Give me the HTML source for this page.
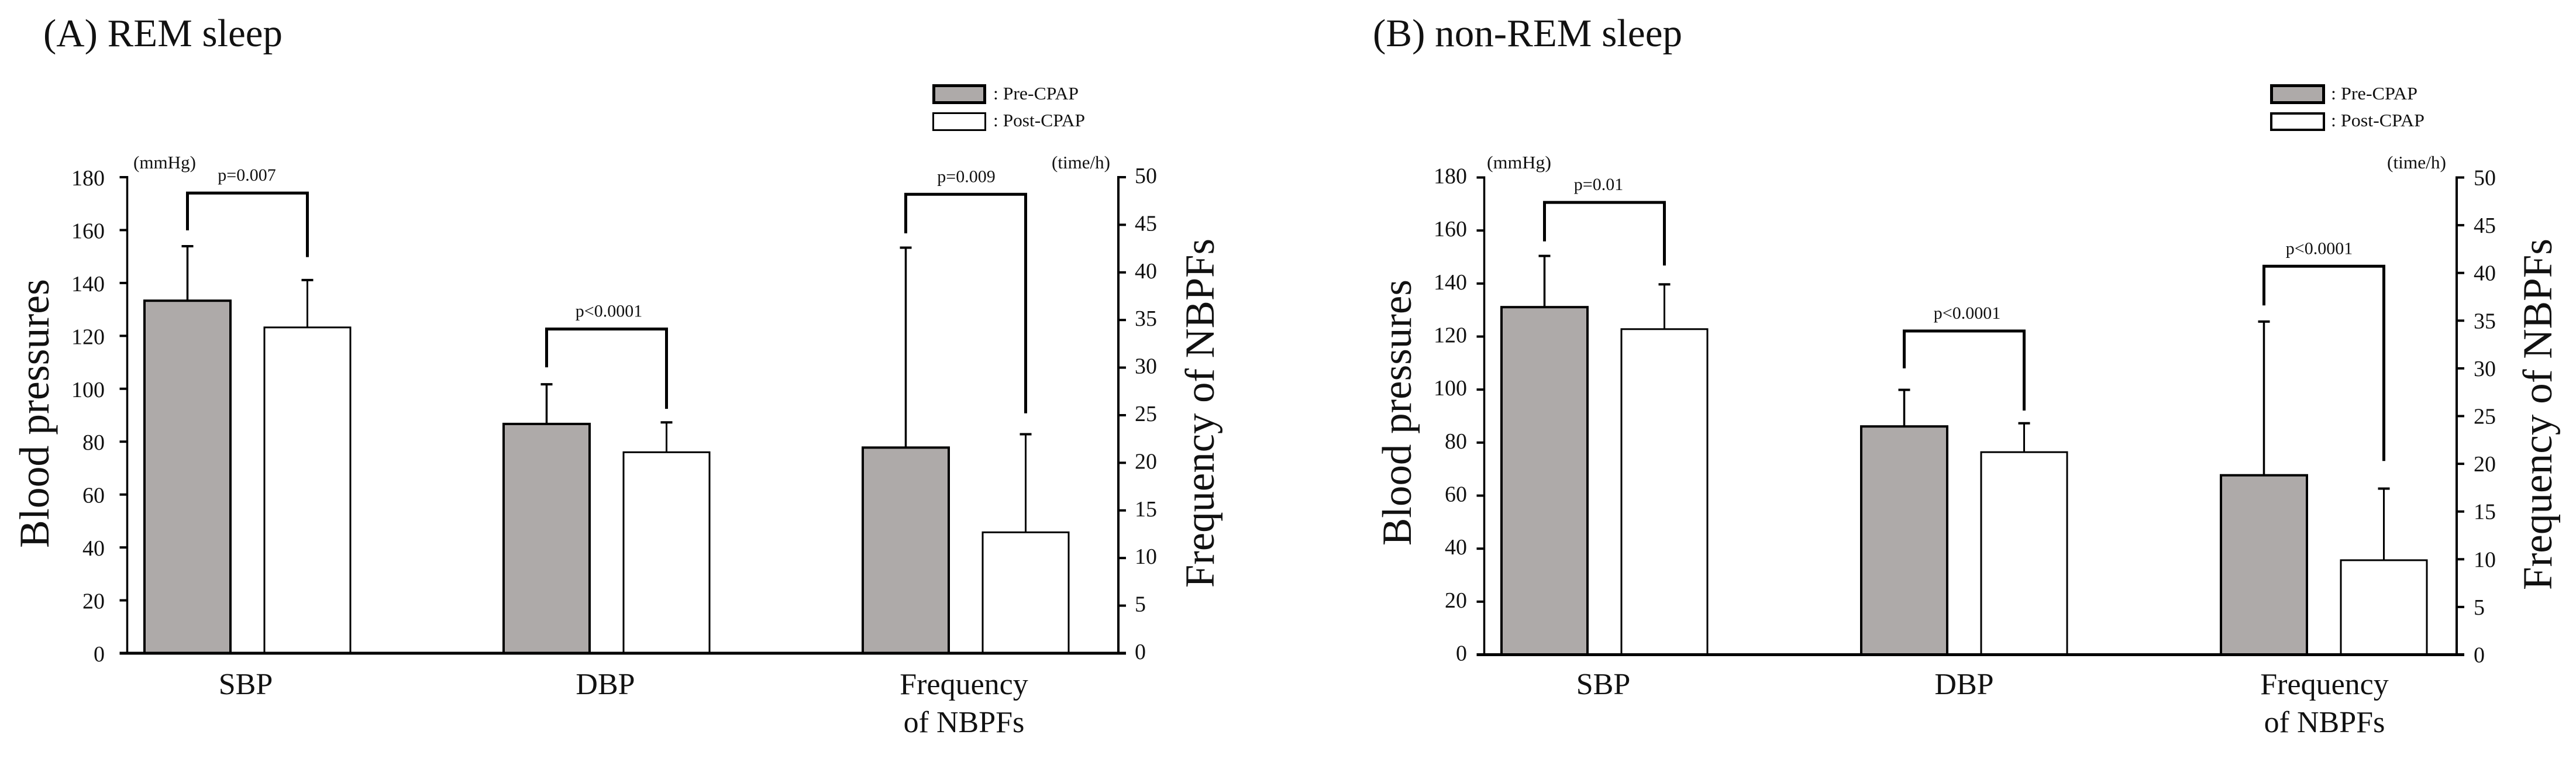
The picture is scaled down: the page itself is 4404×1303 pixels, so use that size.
<!DOCTYPE html>
<html lang="en">
<head>
<meta charset="utf-8">
<title>NBPF and blood pressure, pre- and post-CPAP</title>
<style>
html,body{margin:0;padding:0;background:#fff;width:4404px;height:1303px;overflow:hidden}
svg{display:block}
text{font-family:"Liberation Serif","Times New Roman",serif;fill:#111}
</style>
</head>
<body>
<svg id="figure" width="4404" height="1303" viewBox="0 0 4404 1303" xmlns="http://www.w3.org/2000/svg">
  <rect x="0" y="0" width="4404" height="1303" fill="#ffffff"/>

  <text x="74" y="79" font-size="67" textLength="409" lengthAdjust="spacingAndGlyphs">(A) REM sleep</text>
  <text x="2347" y="79" font-size="67" textLength="529" lengthAdjust="spacingAndGlyphs">(B) non-REM sleep</text>

  <text transform="translate(83 937) rotate(-90)" font-size="72" textLength="460" lengthAdjust="spacingAndGlyphs">Blood pressures</text>
  <text transform="translate(2075 1005) rotate(-90)" font-size="71" textLength="597" lengthAdjust="spacingAndGlyphs">Frequency of NBPFs</text>
  <text transform="translate(2412 933) rotate(-90)" font-size="71" textLength="455" lengthAdjust="spacingAndGlyphs">Blood pressures</text>
  <text transform="translate(4362 1009) rotate(-90)" font-size="71" textLength="601" lengthAdjust="spacingAndGlyphs">Frequency of NBPFs</text>

  <text x="228" y="288" font-size="31" textLength="107" lengthAdjust="spacingAndGlyphs">(mmHg)</text>
  <text x="1798" y="288" font-size="31" textLength="100" lengthAdjust="spacingAndGlyphs">(time/h)</text>
  <text x="2542" y="288" font-size="31" textLength="110" lengthAdjust="spacingAndGlyphs">(mmHg)</text>
  <text x="4081" y="288" font-size="31" textLength="101" lengthAdjust="spacingAndGlyphs">(time/h)</text>

  <g>
    <rect x="1596.5" y="146.5" width="87" height="29" fill="#aeaaa9" stroke="#000" stroke-width="5"/>
    <text x="1698" y="170" font-size="31" textLength="146" lengthAdjust="spacingAndGlyphs">: Pre-CPAP</text>
    <rect x="1595.5" y="193.5" width="89" height="29" fill="#ffffff" stroke="#000" stroke-width="3"/>
    <text x="1698" y="216" font-size="31" textLength="157" lengthAdjust="spacingAndGlyphs">: Post-CPAP</text>
  </g>
  <g>
    <rect x="3883.5" y="146.5" width="89" height="29" fill="#aeaaa9" stroke="#000" stroke-width="5"/>
    <text x="3985" y="170" font-size="31" textLength="148" lengthAdjust="spacingAndGlyphs">: Pre-CPAP</text>
    <rect x="3883" y="194" width="90" height="28" fill="#ffffff" stroke="#000" stroke-width="4"/>
    <text x="3985" y="216" font-size="31" textLength="160" lengthAdjust="spacingAndGlyphs">: Post-CPAP</text>
  </g>

  <g id="panel-a"></g>
  <g id="panel-b"></g>
</svg>

<script>
/* ---- chart data ---- */
const categories = ['SBP', 'DBP', 'Frequency of NBPFs'];
const categoryAxis = ['left', 'left', 'right'];
const leftTicks = [0, 20, 40, 60, 80, 100, 120, 140, 160, 180];
const rightTicks = [0, 5, 10, 15, 20, 25, 30, 35, 40, 45, 50];

const remPre = [133.3, 86.7, 21.6];
const remPost = [123.2, 76.0, 12.7];
const remPreErrorTop = [153.9, 101.7, 42.6];
const remPostErrorTop = [141.1, 87.3, 23.0];
const remBracketTop = [174.0, 122.6, 48.2];
const remBracketPreEnd = [159.9, 108.1, 44.1];
const remBracketPostEnd = [149.8, 92.4, 25.2];
const remPLabels = ['p=0.007', 'p<0.0001', 'p=0.009'];

const nremPre = [131.1, 86.1, 18.8];
const nremPost = [122.8, 76.4, 9.9];
const nremPreErrorTop = [150.4, 99.9, 34.9];
const nremPostErrorTop = [139.7, 87.3, 17.4];
const nremBracketTop = [170.6, 122.1, 40.7];
const nremBracketPreEnd = [155.9, 108.0, 36.6];
const nremBracketPostEnd = [146.8, 92.1, 20.3];
const nremPLabels = ['p=0.01', 'p<0.0001', 'p<0.0001'];

const NS = 'http://www.w3.org/2000/svg';
const PRE_FILL = '#aeaaa9';

function make(parent, tag, attrs) {
  const node = document.createElementNS(NS, tag);
  for (const key in attrs) node.setAttribute(key, attrs[key]);
  parent.appendChild(node);
  return node;
}

function drawPanel(root, layout, series) {
  const yLeft = v => layout.baseY - (v / 180) * (layout.baseY - layout.topY);
  const yRight = v => layout.baseY - (v / 50) * (layout.baseY - layout.topY);
  const yFor = i => (categoryAxis[i] === 'left' ? yLeft : yRight);
  const groupX = i => layout.groupX0 + i * layout.groupStep;
  const preX = i => groupX(i) - layout.barOffset;
  const postX = i => groupX(i) + layout.barOffset;

  /* bars and error bars */
  categories.forEach((cat, i) => {
    const y = yFor(i);

    const preErr = make(root, 'line', { x1: preX(i), x2: preX(i), y1: y(series.pre[i]), y2: y(series.preErr[i]), stroke: '#000', 'stroke-width': 3.5 });
    
    
    const preCap = make(root, 'line', { x1: preX(i) - 10, x2: preX(i) + 10, y1: y(series.preErr[i]), y2: y(series.preErr[i]), stroke: '#000', 'stroke-width': 4 });
    
    

    const postErr = make(root, 'line', { x1: postX(i), x2: postX(i), y1: y(series.post[i]), y2: y(series.postErr[i]), stroke: '#000', 'stroke-width': 3 });
    
    
    const postCap = make(root, 'line', { x1: postX(i) - 10, x2: postX(i) + 10, y1: y(series.postErr[i]), y2: y(series.postErr[i]), stroke: '#000', 'stroke-width': 4 });
    
    

    const preBar = make(root, 'rect', {
      x: preX(i) - layout.barWidth / 2, y: y(series.pre[i]),
      width: layout.barWidth, height: layout.baseY - y(series.pre[i]),
      fill: PRE_FILL, stroke: '#000', 'stroke-width': 4
    });
    
    

    const postBar = make(root, 'rect', {
      x: postX(i) - layout.barWidth / 2, y: y(series.post[i]),
      width: layout.barWidth, height: layout.baseY - y(series.post[i]),
      fill: '#ffffff', stroke: '#000', 'stroke-width': 3
    });
    
    

    /* significance bracket */
    const points = [
      [preX(i), y(series.bracketPre[i])],
      [preX(i), y(series.bracketTop[i])],
      [postX(i), y(series.bracketTop[i])],
      [postX(i), y(series.bracketPost[i])]
    ].map(p => p.join(',')).join(' ');
    const bracket = make(root, 'polyline', { points: points, fill: 'none', stroke: '#000', 'stroke-width': 5 });
    
    

    const pText = make(root, 'text', {
      x: groupX(i) + layout.pShift[i], y: y(series.bracketTop[i]) - 21,
      'font-size': 30, 'text-anchor': 'middle'
    });
    pText.textContent = series.pLabels[i];
    
    

    /* category labels */
    const words = i === 2 ? ['Frequency', 'of NBPFs'] : [cat];
    words.forEach((word, row) => {
      const label = make(root, 'text', {
        x: groupX(i) + layout.labelShift[i], y: 1187 + row * 65,
        'font-size': 52, 'text-anchor': 'middle'
      });
      label.textContent = word;
      
      
    });
  });

  /* left axis */
  const leftAxis = make(root, 'line', { x1: layout.leftX, x2: layout.leftX, y1: layout.topY - 2, y2: layout.baseY, stroke: '#000', 'stroke-width': 3.5 });
  
  
  leftTicks.forEach(t => {
    const tick = make(root, 'line', { x1: layout.leftX - 13, x2: layout.leftX, y1: yLeft(t), y2: yLeft(t), stroke: '#000', 'stroke-width': 4 });
    
    
    const label = make(root, 'text', { x: layout.leftLabelX, y: yLeft(t) + layout.leftLabelDy, 'font-size': 38, 'text-anchor': 'end' });
    label.textContent = String(t);
    
    
  });

  /* right axis */
  const rightAxis = make(root, 'line', { x1: layout.rightX, x2: layout.rightX, y1: layout.topY - 2, y2: layout.baseY, stroke: '#000', 'stroke-width': 4 });
  
  
  rightTicks.forEach(t => {
    const tick = make(root, 'line', { x1: layout.rightX, x2: layout.rightX + 13, y1: yRight(t), y2: yRight(t), stroke: '#000', 'stroke-width': 4 });
    
    
    const label = make(root, 'text', { x: layout.rightLabelX, y: yRight(t) + layout.rightLabelDy, 'font-size': 38 });
    label.textContent = String(t);
    
    
  });

  /* x axis baseline */
  const xAxis = make(root, 'line', { x1: layout.leftX - 13, x2: layout.rightX + 13, y1: layout.baseY, y2: layout.baseY, stroke: '#000', 'stroke-width': 5 });
  
  
}

drawPanel(document.getElementById('panel-a'), {
  baseY: 1117, topY: 303, leftX: 217.5, rightX: 1912,
  groupX0: 423, groupStep: 614, barOffset: 102.5, barWidth: 147,
  pShift: [-1, 4, 1], labelShift: [-3, -2, -3],
  leftLabelX: 179, leftLabelDy: 14, rightLabelX: 1940, rightLabelDy: 10
}, {
  pre: remPre, post: remPost, preErr: remPreErrorTop, postErr: remPostErrorTop,
  bracketTop: remBracketTop, bracketPre: remBracketPreEnd, bracketPost: remBracketPostEnd,
  pLabels: remPLabels
});

drawPanel(document.getElementById('panel-b'), {
  baseY: 1119.5, topY: 303.5, leftX: 2537.5, rightX: 4200,
  groupX0: 2743, groupStep: 615, barOffset: 102.5, barWidth: 147,
  pShift: [-10, 5, -8], labelShift: [-2, 0, 1],
  leftLabelX: 2508, leftLabelDy: 10, rightLabelX: 4229, rightLabelDy: 13
}, {
  pre: nremPre, post: nremPost, preErr: nremPreErrorTop, postErr: nremPostErrorTop,
  bracketTop: nremBracketTop, bracketPre: nremBracketPreEnd, bracketPost: nremBracketPostEnd,
  pLabels: nremPLabels
});
</script>
</body>
</html>
